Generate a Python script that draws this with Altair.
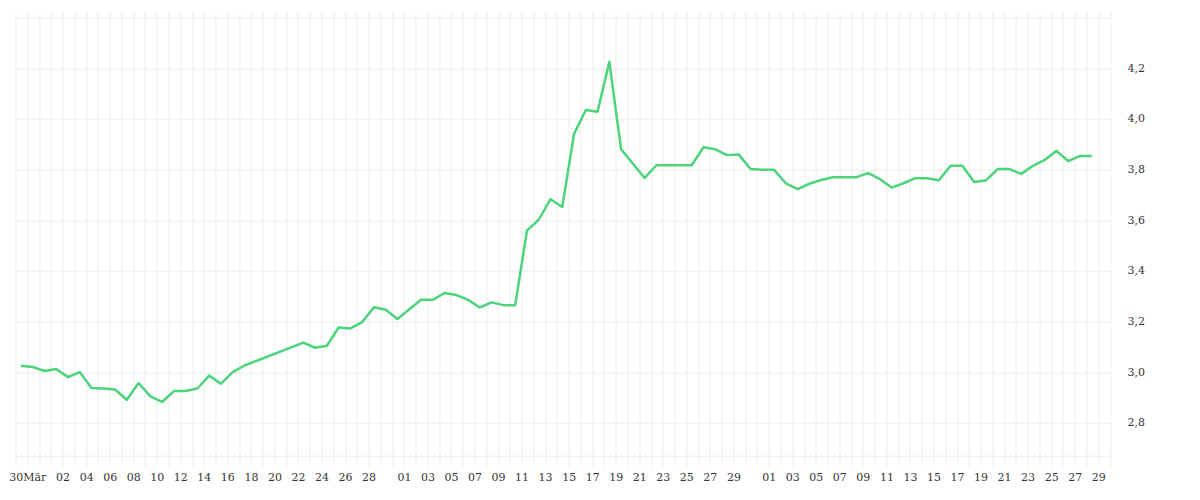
import altair as alt
import pandas as pd

# ---- data ----
dates = [
    "2023-03-29", "2023-03-30", "2023-03-31", "2023-04-01", "2023-04-02", "2023-04-03",
    "2023-04-04", "2023-04-05", "2023-04-06", "2023-04-07", "2023-04-08", "2023-04-09",
    "2023-04-10", "2023-04-11", "2023-04-12", "2023-04-13", "2023-04-14", "2023-04-15",
    "2023-04-16", "2023-04-17", "2023-04-22", "2023-04-23", "2023-04-24", "2023-04-25",
    "2023-04-26", "2023-04-27", "2023-04-28", "2023-04-29", "2023-04-30", "2023-05-02",
    "2023-05-03", "2023-05-04", "2023-05-05", "2023-05-06", "2023-05-07", "2023-05-08",
    "2023-05-09", "2023-05-10", "2023-05-11", "2023-05-12", "2023-05-13", "2023-05-14",
    "2023-05-15", "2023-05-16", "2023-05-17", "2023-05-18", "2023-05-19", "2023-05-21",
    "2023-05-22", "2023-05-23", "2023-05-24", "2023-05-25", "2023-05-26", "2023-05-27",
    "2023-05-28", "2023-05-29", "2023-05-30", "2023-05-31", "2023-06-01", "2023-06-02",
    "2023-06-03", "2023-06-04", "2023-06-05", "2023-06-06", "2023-06-07", "2023-06-08",
    "2023-06-09", "2023-06-10", "2023-06-11", "2023-06-12", "2023-06-13", "2023-06-14",
    "2023-06-15", "2023-06-16", "2023-06-17", "2023-06-18", "2023-06-19", "2023-06-20",
    "2023-06-21", "2023-06-22", "2023-06-23", "2023-06-24", "2023-06-25", "2023-06-26",
    "2023-06-27", "2023-06-28",
]
values = [
    3.026, 3.021, 3.005, 3.013, 2.981, 3.001,
    2.938, 2.936, 2.932, 2.892, 2.958, 2.905,
    2.883, 2.926, 2.926, 2.936, 2.987, 2.955,
    3.001, 3.027, 3.117, 3.097, 3.105, 3.177,
    3.173, 3.198, 3.257, 3.247, 3.210, 3.286,
    3.286, 3.313, 3.305, 3.286, 3.256, 3.276,
    3.265, 3.265, 3.559, 3.602, 3.683, 3.652,
    3.941, 4.035, 4.028, 4.225, 3.880, 3.767,
    3.817, 3.817, 3.817, 3.817, 3.888, 3.880,
    3.857, 3.859, 3.802, 3.799, 3.799, 3.746,
    3.723, 3.744, 3.759, 3.770, 3.770, 3.770,
    3.786, 3.762, 3.729, 3.746, 3.766, 3.766,
    3.758, 3.815, 3.815, 3.751, 3.757, 3.802,
    3.802, 3.783, 3.815, 3.838, 3.874, 3.833,
    3.854, 3.854,
]

label_dates = [
    "2023-03-30",
    "2023-04-02", "2023-04-04", "2023-04-06", "2023-04-08", "2023-04-10", "2023-04-12",
    "2023-04-14", "2023-04-16", "2023-04-18", "2023-04-20", "2023-04-22", "2023-04-24",
    "2023-04-26", "2023-04-28",
    "2023-05-01", "2023-05-03", "2023-05-05", "2023-05-07", "2023-05-09", "2023-05-11",
    "2023-05-13", "2023-05-15", "2023-05-17", "2023-05-19", "2023-05-21", "2023-05-23",
    "2023-05-25", "2023-05-27", "2023-05-29",
    "2023-06-01", "2023-06-03", "2023-06-05", "2023-06-07", "2023-06-09", "2023-06-11",
    "2023-06-13", "2023-06-15", "2023-06-17", "2023-06-19", "2023-06-21", "2023-06-23",
    "2023-06-25", "2023-06-27", "2023-06-29",
]
label_texts = [
    "30Mär",
    "02", "04", "06", "08", "10", "12", "14", "16", "18", "20", "22", "24", "26", "28",
    "01", "03", "05", "07", "09", "11", "13", "15", "17", "19", "21", "23", "25", "27", "29",
    "01", "03", "05", "07", "09", "11", "13", "15", "17", "19", "21", "23", "25", "27", "29",
]
y_ticks = [2.8, 3.0, 3.2, 3.4, 3.6, 3.8, 4.0, 4.2, 4.4]
y_labelled_max = 4.2

axis_start = "2023-03-29"
axis_end = "2023-06-30"

# ---- build ----
df = pd.DataFrame({"t": [d + "T11:00:00Z" for d in dates], "v": values})

days = pd.date_range(axis_start, axis_end, freq="D", tz="UTC")
day_ms = [int(d.value // 1_000_000) for d in days]
domain_ms = [day_ms[0], day_ms[-1]]

lookup = "{" + ",".join(f"'{d}':'{t}'" for d, t in zip(label_dates, label_texts)) + "}"
x_label_expr = f"{lookup}[utcFormat(datum.value, '%Y-%m-%d')] || ''"
y_label_expr = (
    f"datum.value > {y_labelled_max + 0.1} ? '' : "
    "replace(format(datum.value, '.1f'), '.', ',')"
)

FONT = "DejaVu Serif"
GRID = "#ececec"

chart = (
    alt.Chart(df)
    .mark_line(color="#4cd47c", strokeWidth=2.5, strokeJoin="round")
    .encode(
        x=alt.X(
            "t:T",
            scale=alt.Scale(type="utc", domain=domain_ms, nice=False),
            axis=alt.Axis(
                title=None,
                values=day_ms,
                labelExpr=x_label_expr,
                labelOverlap=False,
                labelFlush=False,
                labelBound=False,
                grid=True,
                gridColor=GRID,
                gridWidth=1,
                ticks=True,
                tickColor=GRID,
                tickSize=10,
                domain=True,
                domainColor=GRID,
                labelPadding=6,
                labelFont=FONT,
                labelFontSize=11,
                labelColor="#333333",
            ),
        ),
        y=alt.Y(
            "v:Q",
            scale=alt.Scale(domain=[2.671, 4.419], nice=False, zero=False),
            axis=alt.Axis(
                title=None,
                orient="right",
                values=y_ticks,
                labelExpr=y_label_expr,
                grid=True,
                gridColor=GRID,
                gridWidth=1,
                ticks=False,
                domain=False,
                labelPadding=17,
                labelAlign="left",
                labelFont=FONT,
                labelFontSize=11,
                labelColor="#333333",
            ),
        ),
    )
    .properties(
        width=1094.5,
        height=443,
        autosize=alt.AutoSizeParams(type="none"),
        padding={"left": 7.5, "top": 4.7, "right": 80, "bottom": 40},
    )
    .configure_view(stroke=None)
)

chart.save("out.html", embed_options={"renderer": "svg", "actions": False})
